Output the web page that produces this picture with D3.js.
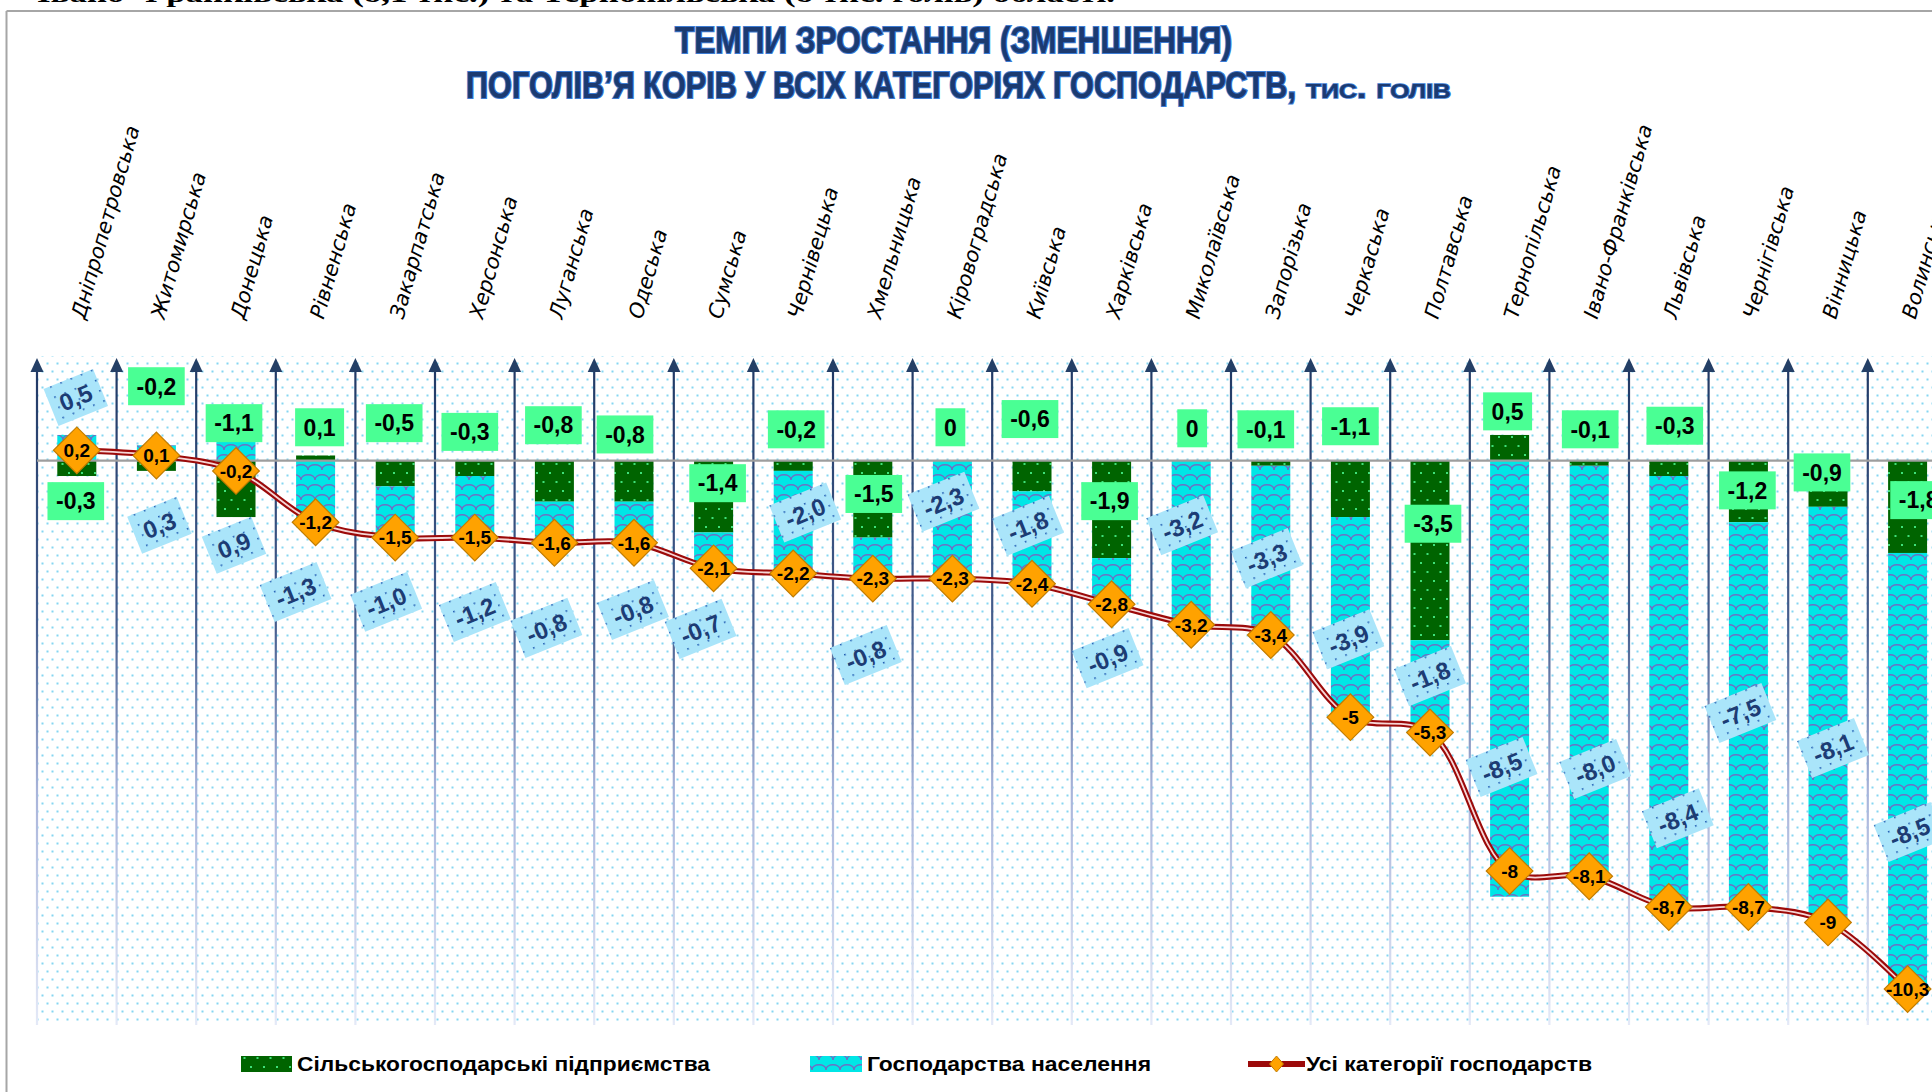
<!DOCTYPE html>
<html>
<head>
<meta charset="utf-8">
<script src="https://cdn.jsdelivr.net/npm/d3@7"></script>
<style>
body{margin:0;background:#fff;overflow:hidden}
svg{display:block}
</style>
</head>
<body>
<script>
// data (тис. голів)
const regions=["Дніпропетровська","Житомирська","Донецька","Рівненська","Закарпатська","Херсонська",
 "Луганська","Одеська","Сумська","Чернівецька","Хмельницька","Кіровоградська","Київська","Харківська",
 "Миколаївська","Запорізька","Черкаська","Полтавська","Тернопільська","Івано-Франківська","Львівська",
 "Чернігівська","Вінницька","Волинська"];
const agri=[-0.3,-0.2,-1.1,0.1,-0.5,-0.3,-0.8,-0.8,-1.4,-0.2,-1.5,0,-0.6,-1.9,0,-0.1,-1.1,-3.5,0.5,-0.1,-0.3,-1.2,-0.9,-1.8];
const households=[0.5,0.3,0.9,-1.3,-1.0,-1.2,-0.8,-0.8,-0.7,-2.0,-0.8,-2.3,-1.8,-0.9,-3.2,-3.3,-3.9,-1.8,-8.5,-8.0,-8.4,-7.5,-8.1,-8.5];
const total=[0.2,0.1,-0.2,-1.2,-1.5,-1.5,-1.6,-1.6,-2.1,-2.2,-2.3,-2.3,-2.4,-2.8,-3.2,-3.4,-5,-5.3,-8,-8.1,-8.7,-8.7,-9,-10.3];
const seriesNames=["Сільськогосподарські підприємства","Господарства населення","Усі категорії господарств"];

// where the hand-placed data labels sit (value units on the y axis) and their sideways nudge in px
const agriLabelAt=[-0.79,1.45,0.73,0.65,0.73,0.56,0.69,0.51,-0.44,0.61,-0.65,0.65,0.81,-0.79,0.63,0.61,0.67,-1.23,0.96,0.61,0.68,-0.58,-0.23,-0.77];
const agriLabelShift=[-1,0,-2,4,-1,-5,-1,-9,4,3,1,-2,-2,-2,1,-5,0,3,-2,1,6,-1,-6,11];
const hhLabelAt=[1.23,-1.26,-1.65,-2.56,-2.75,-2.95,-3.26,-2.91,-3.28,-1.01,-3.79,-0.80,-1.27,-3.85,-1.26,-1.90,-3.48,-4.2,-5.97,-6.01,-6.97,-4.92,-5.6,-7.24];
const hhLabelShift=[-1,3,-2,-20,-9,0,-8,-1,-13,12,-7,-9,-4,-4,-9,-4,-2,0,-8,6,9,-8,5,2];

const W=1932,H=1092;
const plotLeft=37,step=79.6;

const svg=d3.select("body").append("svg").attr("width",W).attr("height",H);
const defs=svg.append("defs");

// patterns
const pBg=defs.append("pattern").attr("id","bgDots").attr("patternUnits","userSpaceOnUse")
 .attr("width",10).attr("height",16);
pBg.append("rect").attr("x",1.5).attr("y",2.5).attr("width",2).attr("height",2).attr("fill","#84d6f2");
pBg.append("rect").attr("x",6.5).attr("y",10.5).attr("width",2).attr("height",2).attr("fill","#84d6f2");

const pG=defs.append("pattern").attr("id","pGreen").attr("patternUnits","userSpaceOnUse")
 .attr("width",13).attr("height",18);
pG.append("rect").attr("width",13).attr("height",18).attr("fill","#006400");
pG.append("rect").attr("x",3).attr("y",4).attr("width",2).attr("height",2).attr("fill","#3fe07a");
pG.append("rect").attr("x",9.5).attr("y",13).attr("width",2).attr("height",2).attr("fill","#3fe07a");

const pC=defs.append("pattern").attr("id","pCyan").attr("patternUnits","userSpaceOnUse")
 .attr("width",14).attr("height",20);
pC.append("rect").attr("width",14).attr("height",20).attr("fill","#00e6e6");
pC.append("path").attr("d","M0,10 C0,3 14,3 14,10 M-7,20 C-7,13 7,13 7,20 C7,13 21,13 21,20 M-7,0 C-7,-7 7,-7 7,0 C7,-7 21,-7 21,0")
 .attr("fill","none").attr("stroke","#6d6fc4").attr("stroke-width",1.5);

const pB=defs.append("pattern").attr("id","pBlueLbl").attr("patternUnits","userSpaceOnUse")
 .attr("width",11).attr("height",11);
pB.append("rect").attr("width",11).attr("height",11).attr("fill","#aae5fa");
pB.append("rect").attr("x",2).attr("y",2).attr("width",1.6).attr("height",1.6).attr("fill","#1d58b0");

const grad=defs.append("linearGradient").attr("id","gridGrad").attr("gradientUnits","userSpaceOnUse")
 .attr("x1",0).attr("x2",0).attr("y1",358).attr("y2",1025);
grad.append("stop").attr("offset",0).attr("stop-color","#1f3864");
grad.append("stop").attr("offset",0.4).attr("stop-color","#465e8e");
grad.append("stop").attr("offset",0.65).attr("stop-color","#a8b4da");
grad.append("stop").attr("offset",1).attr("stop-color","#e4e9f7");

// scales
const x=d3.scaleBand().domain(regions).range([plotLeft,plotLeft+step*regions.length]);
const xBar=d3.scaleBand().domain(regions).range(x.range()).paddingInner(0.51).paddingOuter(0.255);
const y=d3.scaleLinear().domain([-11,2]).range([1025,358]);
const cx=r=>x(r)+x.bandwidth()/2;
const fmt1=v=>v.toFixed(1).replace(".",",").replace("-0,0","0");
const fmtG=v=>v===0?"0":fmt1(v);
const fmtT=v=>String(v).replace(".",",");

// text cut off at the top of the page
svg.append("text").attr("x",37).attr("y",2).attr("font-family","Liberation Serif").attr("font-weight","bold")
 .attr("font-size",26).attr("textLength",1078).attr("lengthAdjust","spacingAndGlyphs")
 .text("Івано-Франківська (8,1 тис.) та Тернопільська (8 тис. голів) області.");

// frame
svg.append("line").attr("x1",6.5).attr("x2",W).attr("y1",11).attr("y2",11).attr("stroke","#a6a6a6").attr("stroke-width",2);
svg.append("line").attr("x1",6.5).attr("x2",6.5).attr("y1",11).attr("y2",H).attr("stroke","#a6a6a6").attr("stroke-width",2);

// title
const tStyle=s=>s.attr("font-family","Liberation Sans").attr("font-weight","bold")
 .attr("fill","#1c3a70").attr("stroke","#3b7bd4").attr("stroke-width",2.2).attr("paint-order","stroke")
 .attr("lengthAdjust","spacingAndGlyphs");
svg.append("text").attr("x",675).attr("y",53).attr("font-size",36).attr("textLength",557).call(tStyle)
 .text("ТЕМПИ ЗРОСТАННЯ (ЗМЕНШЕННЯ)");
svg.append("text").attr("x",466).attr("y",98).attr("font-size",36).attr("textLength",830).call(tStyle)
 .text("ПОГОЛІВ’Я КОРІВ У ВСІХ КАТЕГОРІЯХ ГОСПОДАРСТВ,");
svg.append("text").attr("x",1306).attr("y",98).attr("font-size",30).attr("textLength",145).call(tStyle)
 .attr("font-variant","small-caps").attr("stroke-width",1.6).text("тис. голів");

// plot background
svg.append("rect").attr("x",plotLeft).attr("y",y(2)-2).attr("width",W-plotLeft).attr("height",y(-11)-y(2)+2)
 .attr("fill","url(#bgDots)");

// vertical gridlines with arrow heads
const grid=svg.append("g").selectAll("g").data(regions).join("g");
grid.append("line").attr("x1",d=>x(d)).attr("x2",d=>x(d)).attr("y1",y(-11)).attr("y2",y(2)+6)
 .attr("stroke","url(#gridGrad)").attr("stroke-width",2.2);
grid.append("path").attr("d",d=>`M${x(d)},${y(2)} l-6.5,14 l13,0 z`).attr("fill","#243f66");

// category labels
svg.append("g").selectAll("text").data(regions).join("text")
 .attr("transform",d=>`translate(${cx(d)+8},320) rotate(-74)`)
 .attr("font-family","DejaVu Sans").attr("font-style","italic").attr("font-size",20.7).attr("fill","#000")
 .text(d=>d);

// stacked bars
const rows=regions.map((r,i)=>({region:r,agri:agri[i],households:households[i]}));
const stacked=d3.stack().keys(["agri","households"]).offset(d3.stackOffsetDiverging)(rows);
svg.append("g").selectAll("g").data(stacked).join("g")
 .attr("fill",d=>d.key==="agri"?"url(#pGreen)":"url(#pCyan)")
 .selectAll("rect").data(d=>d).join("rect")
 .attr("x",d=>xBar(d.data.region)).attr("width",xBar.bandwidth())
 .attr("y",d=>y(Math.max(d[0],d[1]))).attr("height",d=>Math.abs(y(d[0])-y(d[1])));

// zero line
svg.append("line").attr("x1",plotLeft).attr("x2",W).attr("y1",y(0)).attr("y2",y(0))
 .attr("stroke","#9e9e9e").attr("stroke-width",2.4);

// total line (double red line)
const line=d3.line().x((d,i)=>cx(regions[i])).y(d=>y(d)).curve(d3.curveCatmullRom.alpha(0.5));
svg.append("path").attr("d",line(total)).attr("fill","none").attr("stroke","#9c0a0a").attr("stroke-width",6);
svg.append("path").attr("d",line(total)).attr("fill","none").attr("stroke","#f6d6d6").attr("stroke-width",1.8);

// green (agri) labels
const gl=svg.append("g").selectAll("g").data(regions).join("g")
 .attr("transform",(d,i)=>`translate(${cx(d)+agriLabelShift[i]},${y(agriLabelAt[i])})`);
gl.append("rect").attr("fill","#4aff94");
gl.append("text").attr("text-anchor","middle").attr("dy","0.36em")
 .attr("font-family","Liberation Sans").attr("font-weight","bold").attr("font-size",23).attr("fill","#000")
 .text((d,i)=>fmtG(agri[i]));
gl.each(function(){
 const g=d3.select(this),w=g.select("text").node().getComputedTextLength()+17;
 g.select("rect").attr("x",-w/2).attr("y",-19).attr("width",w).attr("height",38);
});

// blue (households) labels, tilted
const bl=svg.append("g").selectAll("g").data(regions).join("g")
 .attr("transform",(d,i)=>`translate(${cx(d)+hhLabelShift[i]},${y(hhLabelAt[i])}) rotate(-22)`);
bl.append("rect").attr("fill","url(#pBlueLbl)");
bl.append("text").attr("text-anchor","middle").attr("dy","0.36em")
 .attr("font-family","Liberation Sans").attr("font-weight","bold").attr("font-size",24).attr("fill","#1d3c74")
 .text((d,i)=>fmt1(households[i]));
bl.each(function(){
 const g=d3.select(this),w=g.select("text").node().getComputedTextLength()+20;
 g.select("rect").attr("x",-w/2).attr("y",-20).attr("width",w).attr("height",40);
});

// diamonds with totals
const dm=svg.append("g").selectAll("g").data(total).join("g")
 .attr("transform",(d,i)=>`translate(${cx(regions[i])},${y(d)})`);
dm.append("path").attr("d",d3.symbol(d3.symbolSquare,1090)()).attr("transform","rotate(45)")
 .attr("fill","#ffa200").attr("stroke","#c27c00").attr("stroke-width",1.2);
dm.append("text").attr("text-anchor","middle").attr("dy","0.36em")
 .attr("font-family","Liberation Sans").attr("font-weight","bold").attr("font-size",19).attr("fill","#000")
 .text(d=>fmtT(d));

// legend
const lg=svg.append("g").attr("font-family","Liberation Sans").attr("font-weight","bold").attr("font-size",21);
lg.append("rect").attr("x",241).attr("y",1056).attr("width",51).attr("height",16).attr("fill","url(#pGreen)");
lg.append("text").attr("x",297).attr("y",1071).attr("textLength",413).attr("lengthAdjust","spacingAndGlyphs").text(seriesNames[0]);
lg.append("rect").attr("x",810).attr("y",1056).attr("width",52).attr("height",16).attr("fill","url(#pCyan)");
lg.append("text").attr("x",867).attr("y",1071).attr("textLength",284).attr("lengthAdjust","spacingAndGlyphs").text(seriesNames[1]);
lg.append("line").attr("x1",1248).attr("x2",1305).attr("y1",1064).attr("y2",1064).attr("stroke","#9c0a0a").attr("stroke-width",6);
lg.append("path").attr("d","M1276.5,1056 l7,8 l-7,8 l-7,-8 z").attr("fill","#ffa200").attr("stroke","#c27c00");
lg.append("text").attr("x",1306).attr("y",1071).attr("textLength",286).attr("lengthAdjust","spacingAndGlyphs").text(seriesNames[2]);
</script>
</body>
</html>
